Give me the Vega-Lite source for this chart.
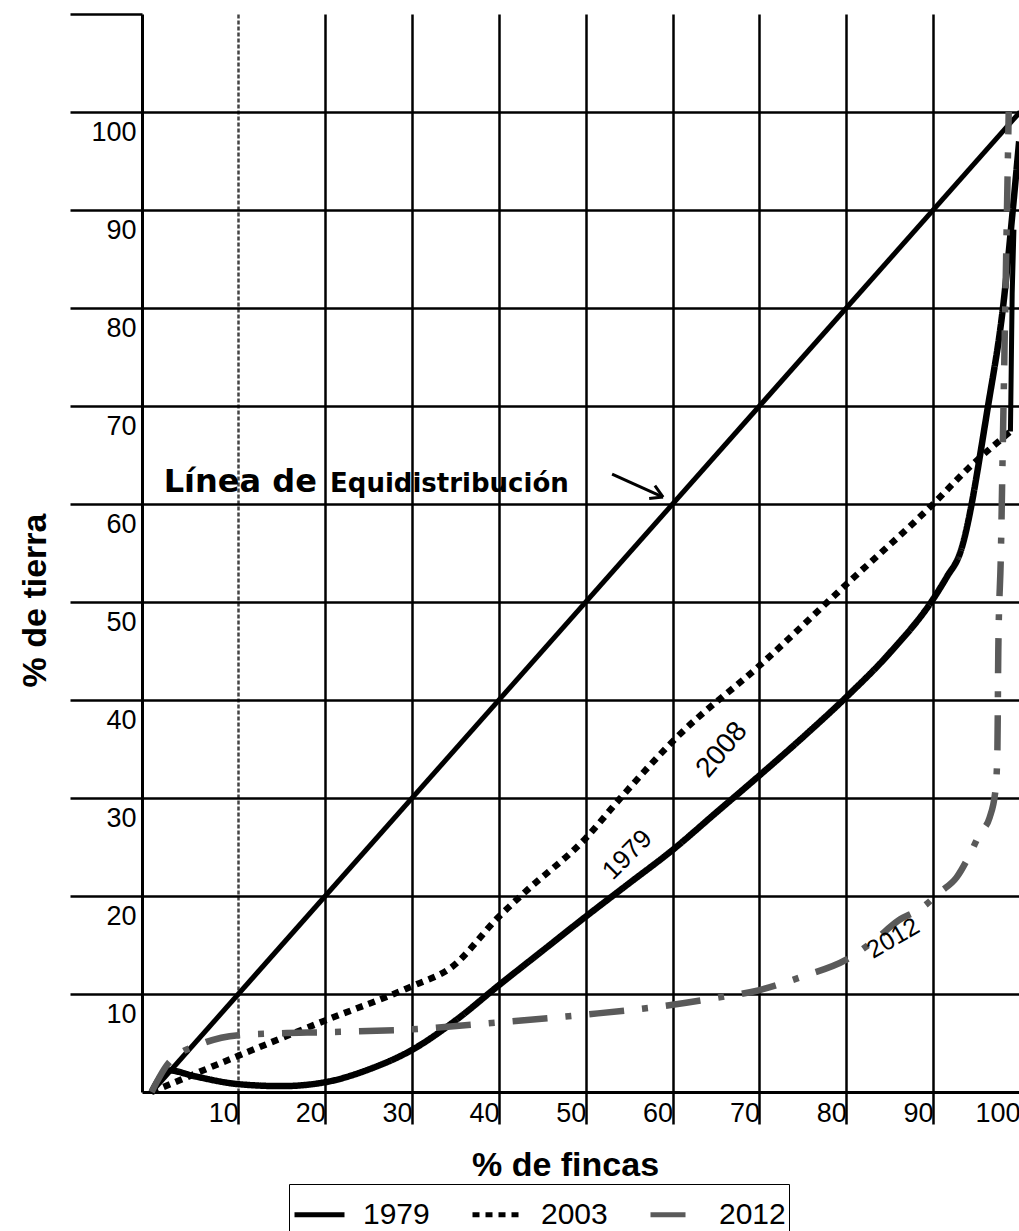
{
  "$schema": "https://vega.github.io/schema/vega-lite/v6.json",
  "width": 878,
  "height": 1078,
  "autosize": "none",
  "padding": {"left": 142, "top": 14, "right": 0, "bottom": 139},
  "background": "white",
  "config": {"view": {"stroke": null}, "font": "Liberation Sans"},
  "datasets": {
    "curvas": [
      {"serie": "1979", "x": 0, "y": 0}, {"serie": "1979", "x": 2, "y": 2.2}, {"serie": "1979", "x": 5, "y": 1.6}, {"serie": "1979", "x": 10, "y": 0.8}, {"serie": "1979", "x": 15, "y": 0.6}, {"serie": "1979", "x": 20, "y": 1.0}, {"serie": "1979", "x": 25, "y": 2.3}, {"serie": "1979", "x": 30, "y": 4.3}, {"serie": "1979", "x": 35, "y": 7.3}, {"serie": "1979", "x": 40, "y": 10.9}, {"serie": "1979", "x": 45, "y": 14.4}, {"serie": "1979", "x": 50, "y": 17.9}, {"serie": "1979", "x": 55, "y": 21.3}, {"serie": "1979", "x": 60, "y": 24.7}, {"serie": "1979", "x": 65, "y": 28.5}, {"serie": "1979", "x": 70, "y": 32.3}, {"serie": "1979", "x": 75, "y": 36.2}, {"serie": "1979", "x": 80, "y": 40.3}, {"serie": "1979", "x": 85, "y": 44.8}, {"serie": "1979", "x": 90, "y": 50.3}, {"serie": "1979", "x": 91.6, "y": 52.6}, {"serie": "1979", "x": 93.1, "y": 55}, {"serie": "1979", "x": 96.3, "y": 69.9}, {"serie": "1979", "x": 98.1, "y": 80.5}, {"serie": "1979", "x": 99.2, "y": 90.3}, {"serie": "1979", "x": 99.9, "y": 97},
      {"serie": "2003", "x": 0, "y": 0}, {"serie": "2003", "x": 10, "y": 3.7}, {"serie": "2003", "x": 20, "y": 7.3}, {"serie": "2003", "x": 30, "y": 10.8}, {"serie": "2003", "x": 34.5, "y": 12.7}, {"serie": "2003", "x": 40, "y": 17.9}, {"serie": "2003", "x": 43, "y": 20.4}, {"serie": "2003", "x": 50, "y": 25.9}, {"serie": "2003", "x": 54, "y": 30}, {"serie": "2003", "x": 60.6, "y": 36.3}, {"serie": "2003", "x": 70, "y": 43.5}, {"serie": "2003", "x": 80, "y": 51.8}, {"serie": "2003", "x": 90, "y": 60}, {"serie": "2003", "x": 94, "y": 63.6}, {"serie": "2003", "x": 98.9, "y": 67.4},
      {"serie": "2012", "x": 0, "y": 0}, {"serie": "2012", "x": 2, "y": 3}, {"serie": "2012", "x": 6, "y": 5}, {"serie": "2012", "x": 10, "y": 5.8}, {"serie": "2012", "x": 15, "y": 6}, {"serie": "2012", "x": 20, "y": 6.1}, {"serie": "2012", "x": 30, "y": 6.4}, {"serie": "2012", "x": 40, "y": 7.1}, {"serie": "2012", "x": 50, "y": 7.9}, {"serie": "2012", "x": 60, "y": 8.9}, {"serie": "2012", "x": 65, "y": 9.6}, {"serie": "2012", "x": 70, "y": 10.4}, {"serie": "2012", "x": 75, "y": 11.8}, {"serie": "2012", "x": 80, "y": 13.5}, {"serie": "2012", "x": 83, "y": 15.3}, {"serie": "2012", "x": 86, "y": 17.5}, {"serie": "2012", "x": 88.7, "y": 18.8}, {"serie": "2012", "x": 90.8, "y": 20.4}, {"serie": "2012", "x": 92.7, "y": 21.9}, {"serie": "2012", "x": 94.2, "y": 24.2}, {"serie": "2012", "x": 95.4, "y": 26.4}, {"serie": "2012", "x": 96.5, "y": 28}, {"serie": "2012", "x": 97.2, "y": 31}, {"serie": "2012", "x": 97.4, "y": 35}, {"serie": "2012", "x": 97.5, "y": 45}, {"serie": "2012", "x": 97.8, "y": 55}, {"serie": "2012", "x": 98, "y": 65}, {"serie": "2012", "x": 98.2, "y": 75}, {"serie": "2012", "x": 98.4, "y": 85}, {"serie": "2012", "x": 98.6, "y": 95}, {"serie": "2012", "x": 98.7, "y": 100}
    ],
    "equidistribucion": [{"x": 0, "y": 0}, {"x": 100, "y": 100}],
    "cola2003": [{"x": 98.9, "y": 67.4}, {"x": 99.1, "y": 81.5}, {"x": 99.3, "y": 88}],
    "flecha": [
      {"x": 53.03, "y": 63.06, "x2": 58.9, "y2": 60.71},
      {"x": 57.96, "y": 61.88, "x2": 58.9, "y2": 60.71},
      {"x": 57.3, "y": 60.57, "x2": 58.9, "y2": 60.71}
    ]
  },
  "layer": [
    {
      "data": {"name": "equidistribucion"},
      "mark": {"type": "line", "color": "black", "strokeWidth": 5},
      "encoding": {
        "x": {
          "field": "x", "type": "quantitative",
          "scale": {"domain": [-1.1, 100], "nice": false, "zero": false},
          "axis": {
            "title": "% de fincas", "titleFont": "Liberation Sans", "titleFontSize": 34, "titleFontWeight": "bold", "titleColor": "black",
            "titleX": 423, "titleY": 73, "titleAlign": "center", "titleBaseline": "middle",
            "values": [10, 20, 30, 40, 50, 60, 70, 80, 90, 100],
            "grid": true,
            "gridColor": {"condition": {"test": "datum.value === 10", "value": "#444444"}, "value": "black"},
            "gridDash": {"condition": {"test": "datum.value === 10", "value": [4, 2]}, "value": []},
            "gridWidth": 2.5, "gridOpacity": 1,
            "tickSize": 32, "tickWidth": 2.5, "tickColor": "black",
            "domainColor": "black", "domainWidth": 3,
            "labelFont": "Liberation Sans", "labelFontSize": 27, "labelColor": "black",
            "labelAlign": "right", "labelDx": -6, "labelBaseline": "top", "labelPadding": -24,
            "labelFlush": false, "labelOverlap": false
          }
        },
        "y": {
          "field": "y", "type": "quantitative",
          "scale": {"domain": [0, 110], "nice": false, "zero": false},
          "axis": {
            "title": "% de tierra", "titleFont": "Liberation Sans", "titleFontSize": 34, "titleFontWeight": "bold", "titleColor": "black",
            "titleX": -107, "titleY": 586, "titleAngle": -90, "titleAlign": "center", "titleBaseline": "middle",
            "values": [10, 20, 30, 40, 50, 60, 70, 80, 90, 100, 110],
            "grid": true,
            "gridColor": {"condition": {"test": "datum.value >= 110", "value": "transparent"}, "value": "black"},
            "gridWidth": 2.5, "gridOpacity": 1,
            "tickSize": 72, "tickWidth": 2.5, "tickColor": "black",
            "domainColor": "black", "domainWidth": 3,
            "labelExpr": "datum.value >= 110 ? '' : datum.label",
            "labelFont": "Liberation Sans", "labelFontSize": 27, "labelColor": "black",
            "labelAlign": "right", "labelBaseline": "top", "labelPadding": -66, "labelOffset": 7,
            "labelOverlap": false
          }
        }
      }
    },
    {
      "data": {"name": "curvas"},
      "mark": {"type": "line", "strokeWidth": 6.5, "strokeCap": "butt", "interpolate": "monotone"},
      "encoding": {
        "x": {"field": "x", "type": "quantitative"},
        "y": {"field": "y", "type": "quantitative"},
        "color": {
          "field": "serie", "type": "nominal",
          "scale": {"domain": ["1979", "2003", "2012"], "range": ["black", "black", "#5a5a5a"]},
          "legend": {"title": null, "orient": "none", "legendX": 147, "legendY": 1170, "direction": "horizontal", "symbolType": "stroke", "symbolSize": 2500, "symbolStrokeWidth": 5, "labelFontSize": 30, "labelFont": "Liberation Sans", "labelColor": "black", "strokeColor": "black", "padding": 3, "columnPadding": 32, "labelOffset": 16}
        },
        "strokeDash": {
          "field": "serie", "type": "nominal",
          "scale": {"domain": ["1979", "2003", "2012"], "range": [[1, 0], [7, 6], [35, 18, 6, 18]]},
          "legend": {"title": null, "orient": "none", "legendX": 147, "legendY": 1170, "direction": "horizontal", "symbolType": "stroke", "symbolSize": 2500, "symbolStrokeWidth": 5, "labelFontSize": 30, "labelFont": "Liberation Sans", "labelColor": "black", "strokeColor": "black", "padding": 3, "columnPadding": 32, "labelOffset": 16}
        }
      }
    },
    {
      "data": {"name": "cola2003"},
      "mark": {"type": "line", "color": "black", "strokeWidth": 5},
      "encoding": {
        "x": {"field": "x", "type": "quantitative"},
        "y": {"field": "y", "type": "quantitative"}
      }
    },
    {
      "data": {"name": "flecha"},
      "mark": {"type": "rule", "color": "black", "strokeWidth": 3},
      "encoding": {
        "x": {"field": "x", "type": "quantitative"},
        "y": {"field": "y", "type": "quantitative"},
        "x2": {"field": "x2"},
        "y2": {"field": "y2"}
      }
    },
    {
      "data": {"values": [{"x": 1.4, "y": 61.2, "t": "Línea de"}]},
      "mark": {"type": "text", "align": "left", "baseline": "alphabetic", "font": "DejaVu Sans", "fontSize": 32, "fontWeight": "bold", "color": "black"},
      "encoding": {
        "x": {"field": "x", "type": "quantitative"},
        "y": {"field": "y", "type": "quantitative"},
        "text": {"field": "t"}
      }
    },
    {
      "data": {"values": [{"x": 20.55, "y": 61.2, "t": "Equidistribución"}]},
      "mark": {"type": "text", "align": "left", "baseline": "alphabetic", "font": "DejaVu Sans", "fontSize": 26, "fontWeight": "bold", "color": "black"},
      "encoding": {
        "x": {"field": "x", "type": "quantitative"},
        "y": {"field": "y", "type": "quantitative"},
        "text": {"field": "t"}
      }
    },
    {
      "data": {"values": [{"x": 65.7, "y": 34.9, "t": "2008"}]},
      "mark": {"type": "text", "align": "center", "baseline": "middle", "font": "Liberation Sans", "fontSize": 28, "angle": 310, "color": "black"},
      "encoding": {
        "x": {"field": "x", "type": "quantitative"},
        "y": {"field": "y", "type": "quantitative"},
        "text": {"field": "t"}
      }
    },
    {
      "data": {"values": [{"x": 54.8, "y": 24.2, "t": "1979"}]},
      "mark": {"type": "text", "align": "center", "baseline": "middle", "font": "Liberation Sans", "fontSize": 26, "angle": 315, "color": "black"},
      "encoding": {
        "x": {"field": "x", "type": "quantitative"},
        "y": {"field": "y", "type": "quantitative"},
        "text": {"field": "t"}
      }
    },
    {
      "data": {"values": [{"x": 85.4, "y": 15.7, "t": "2012"}]},
      "mark": {"type": "text", "align": "center", "baseline": "middle", "font": "Liberation Sans", "fontSize": 25, "angle": 330, "color": "black"},
      "encoding": {
        "x": {"field": "x", "type": "quantitative"},
        "y": {"field": "y", "type": "quantitative"},
        "text": {"field": "t"}
      }
    }
  ]
}
